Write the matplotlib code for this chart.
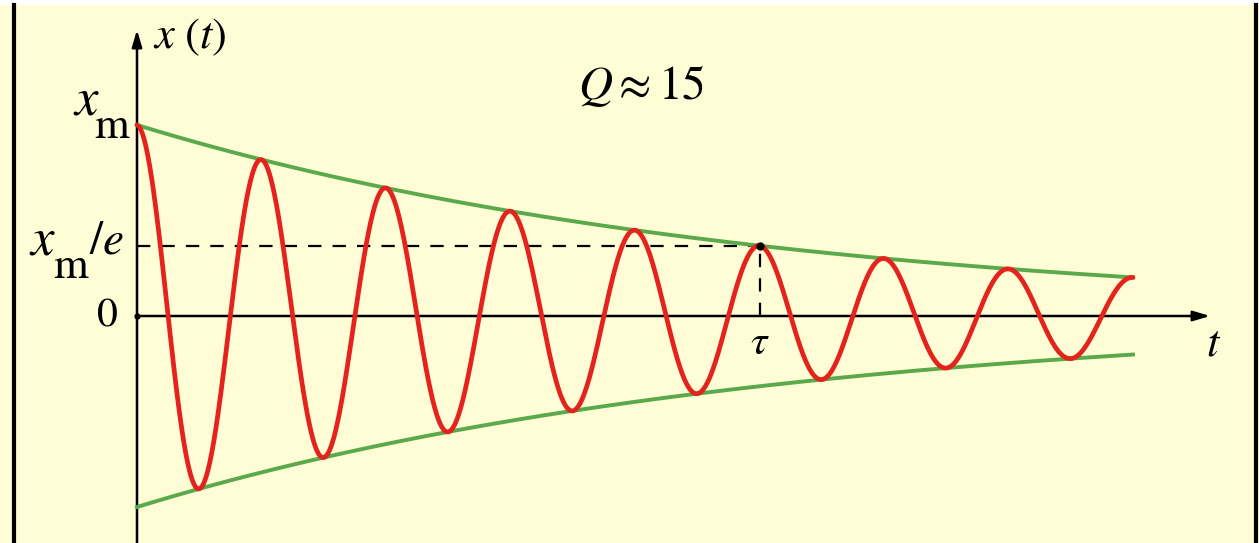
import matplotlib.pyplot as plt
import numpy as np
from matplotlib.patches import Rectangle, FancyArrowPatch
from matplotlib.lines import Line2D

plt.rcParams['mathtext.fontset'] = 'stix'
plt.rcParams['font.family'] = ['STIXGeneral', 'DejaVu Serif']

# oscillator parameters (time in periods, displacement in units of x_m)
x_m = 1.0
period = 1.0
tau = 5.0          # amplitude falls to x_m/e after five periods
t_end = 8.0
q_label = r'$Q \approx 15$'

t = np.linspace(0, t_end, 2000)
envelope = x_m * np.exp(-t / tau)
x = envelope * np.cos(2 * np.pi * t / period)

bg = '#fffdd6'
red = '#e3231c'
green = '#5aa94a'

fig = plt.figure(figsize=(12.59, 5.43), dpi=100)
fig.patch.set_facecolor(bg)
ax = fig.add_axes([0, 0, 1, 1])
ax.set_facecolor(bg)
ax.axis('off')

# scale: 124.5 px per period, 191 px per x_m, origin at (137, 316) px
sx, sy = 124.5, 191.0
ax.set_xlim(-137 / sx, (1259 - 137) / sx)
ax.set_ylim(-(543 - 316) / sy, 316 / sy)

# axes with arrows
x_tip = (1210 - 137) / sx
y_tip = (316 - 30) / sy
y_bot = -(543 - 316) / sy
ax.add_patch(FancyArrowPatch((0, 0), (x_tip, 0), arrowstyle='-|>,head_length=10,head_width=3',
                             color='black', lw=1.8, shrinkA=0, shrinkB=0, zorder=2))
ax.add_patch(FancyArrowPatch((0, y_bot), (0, y_tip), arrowstyle='-|>,head_length=10,head_width=3',
                             color='black', lw=1.8, shrinkA=0, shrinkB=0, zorder=2))

# x_m/e guide lines
x_e = x_m / np.e
ax.plot([0, tau], [x_e, x_e], color='black', lw=1.6, dashes=(6, 5), zorder=2)
ax.plot([tau, tau], [0, x_e], color='black', lw=1.6, dashes=(6, 5), zorder=2)

# envelope and motion
ax.plot(t, envelope, color=green, lw=2.8, zorder=3)
ax.plot(t, -envelope, color=green, lw=2.8, zorder=3)
ax.plot(t, x, color=red, lw=3.4, zorder=4, solid_capstyle='round')
ax.plot([tau], [x_e], 'o', color='black', ms=5, zorder=5)
ax.plot([0], [0], 'o', color='black', ms=3.5, zorder=5)

# labels; the "m" subscripts are set as separate, deeper-dropped pieces
dx, dy = 8 / sx, 26 / sy
ax.text(0.13, y_tip - 0.04, r'$x\ (t)$', fontsize=32, va='center', ha='left')

ax.text(-(137 - 100) / sx, x_m + 0.12, r'$x$', fontsize=38, va='center', ha='right')
ax.text(-(137 - 131) / sx, x_m + 0.12 - dy, r'$\mathrm{m}$', fontsize=32, va='center', ha='right')

ax.text(-(137 - 56) / sx, x_e + 0.02, r'$x$', fontsize=38, va='center', ha='right')
ax.text(-(137 - 90) / sx, x_e + 0.02 - dy, r'$\mathrm{m}$', fontsize=32, va='center', ha='right')
ax.text(-(137 - 124) / sx, x_e + 0.02, r'$/e$', fontsize=34, va='center', ha='right')

ax.text(-0.15, 0, r'$\mathrm{0}$', fontsize=30, va='center', ha='right')
ax.text(tau, -0.05, r'$\tau$', fontsize=30, va='top', ha='center')
ax.text(x_tip + 0.03, -0.05, r'$t$', fontsize=32, va='top', ha='center')
ax.text((641 - 137) / sx, (316 - 86) / sy, q_label, fontsize=34, va='center', ha='center')

# frame: white strip on top, black edges left and right
fig.add_artist(Rectangle((0, 1 - 5 / 543), 1, 5 / 543, transform=fig.transFigure,
                         facecolor='white', edgecolor='none'))
fig.add_artist(Line2D([14 / 1259, 14 / 1259], [0, 1 - 5 / 543], transform=fig.transFigure,
                      color='black', lw=3))
fig.add_artist(Line2D([1255.5 / 1259, 1255.5 / 1259], [0, 1 - 5 / 543], transform=fig.transFigure,
                      color='black', lw=3))

fig.savefig('out.png', dpi=100, facecolor=fig.get_facecolor())
